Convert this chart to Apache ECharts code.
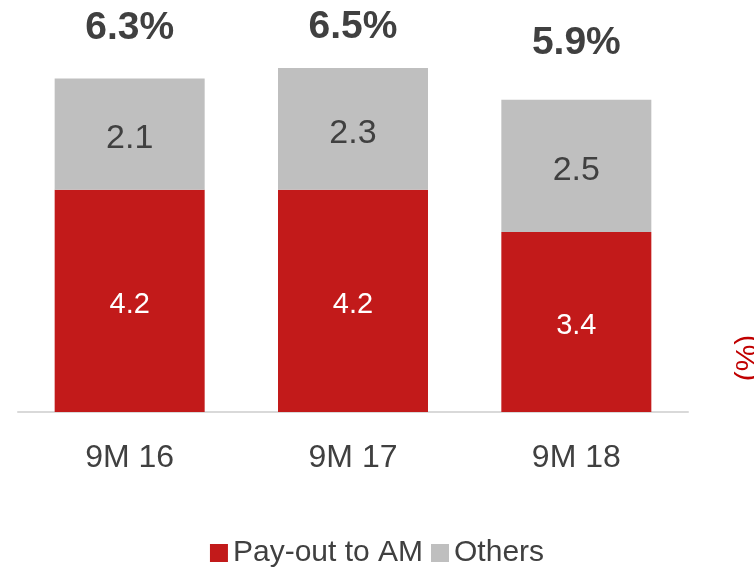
<!DOCTYPE html>
<html lang="en">
  <head>
    <meta charset="UTF-8" />
    <title>Pay-out chart</title>
    <script src="https://cdn.jsdelivr.net/npm/echarts@6.0.0/dist/echarts.min.js"></script>
    <style>
      html, body { margin: 0; padding: 0; background: #fff; }
      #chart { width: 754px; height: 569px; }
    </style>
  </head>
  <body>
    <div id="chart"></div>
    <script>
      var categories = ["9M 16", "9M 17", "9M 18"];
      var payout = [4.2, 4.2, 3.4];
      var others = [2.1, 2.3, 2.5];
      var totals = ["6.3%", "6.5%", "5.9%"];

      // gap between bar top and the bold total label
      var totalGap = [31, 21, 37];

      var font = "Liberation Sans, Arial, sans-serif";
      var myChart = echarts.init(document.getElementById("chart"));

      var option = {
        animation: false,
        textStyle: { fontFamily: font },
        grid: { left: 18, right: 66, top: 15, bottom: 157 },
        legend: {
          bottom: -4,
          left: "center",
          itemWidth: 18,
          itemHeight: 18,
          itemGap: 8,
          icon: "rect",
          textStyle: { fontSize: 30, color: "#404040", fontFamily: font },
          data: ["Pay-out to AM", "Others"]
        },
        xAxis: {
          type: "category",
          data: categories,
          axisTick: { show: false },
          axisLine: { lineStyle: { color: "#d9d9d9", width: 2 } },
          axisLabel: { fontSize: 32, color: "#404040", margin: 30 }
        },
        yAxis: {
          type: "value",
          min: 0,
          max: 7.5,
          show: false,
          splitLine: { show: false }
        },
        series: [
          {
            name: "Pay-out to AM",
            type: "bar",
            stack: "a",
            barWidth: 150,
            data: payout,
            itemStyle: { color: "#C21A1A" },
            label: {
              show: true,
              position: "inside",
              offset: [0, 4],
              color: "#fff",
              fontSize: 29
            }
          },
          {
            name: "Others",
            type: "bar",
            stack: "a",
            data: others,
            itemStyle: { color: "#BFBFBF" },
            label: {
              show: true,
              position: "inside",
              offset: [0, 5],
              color: "#404040",
              fontSize: 34
            }
          },
          {
            // invisible helper carrying the total labels above each stack
            name: "total",
            type: "bar",
            stack: "a",
            data: totals.map(function (t, i) {
              return {
                value: 0,
                label: { distance: totalGap[i] }
              };
            }),
            itemStyle: { color: "transparent" },
            label: {
              show: true,
              position: "top",
              fontSize: 39,
              fontWeight: "bold",
              color: "#404040",
              formatter: function (p) {
                return totals[p.dataIndex];
              }
            }
          }
        ],
        graphic: [
          {
            type: "text",
            x: 733,
            y: 358,
            rotation: Math.PI / 2,
            style: {
              text: "(%)",
              fill: "#C00000",
              font: "30px " + font,
              align: "center",
              verticalAlign: "top"
            }
          }
        ]
      };

      myChart.setOption(option);
    </script>
  </body>
</html>
